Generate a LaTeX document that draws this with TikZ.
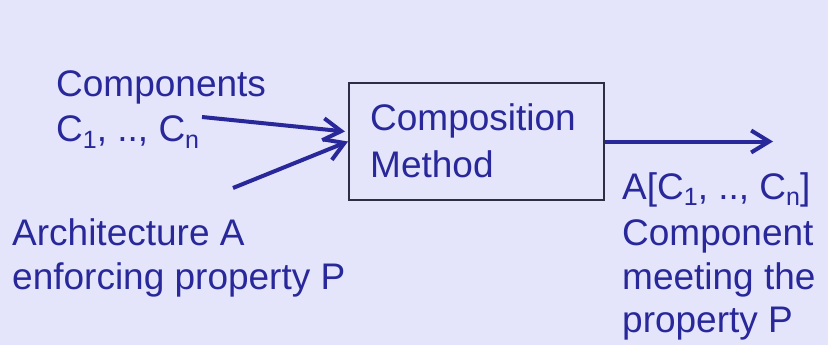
\documentclass[tikz,border=0pt]{standalone}
\usepackage{fontspec}
\setmainfont{Liberation Sans}
\usetikzlibrary{arrows.meta}
\definecolor{bg}{RGB}{228,228,250}
\definecolor{ink}{RGB}{40,40,155}
\definecolor{frame}{RGB}{45,45,70}
% lowered, reduced index
\newcommand\idx[1]{\raisebox{-6pt}{\fontsize{25}{25}\selectfont #1}}
\begin{document}
\begin{tikzpicture}[x=1pt,y=-1pt,
  txt/.style={anchor=base west, inner sep=0pt, text=ink, font=\fontsize{37}{44}\selectfont},
  flow/.style={draw=ink, line width=4pt, -{Straight Barb[length=18pt,width=22pt]}},
  block/.style={draw=frame, line width=2pt, minimum width=255pt, minimum height=117pt, inner sep=0pt}]
\fill[bg] (0,0) rectangle (828,345);
\useasboundingbox (0,0) rectangle (828,345);

% central block
\node[block] (box) at (476.5,141.5) {};
\node[txt] (m1) at (370,130) {Composition};
\node[txt] (m2) at (370,177) {Method};

% inputs
\node[txt] (c1) at (56,96) {Components};
\node[txt] (c2) at (56,142) {C\idx{1}, .., C\idx{n}};
\node[txt] (a1) at (12,245) {Architecture A};
\node[txt] (a2) at (12,289) {enforcing property P};

% output
\node[txt] (r1) at (622,199) {A[C\idx{1}, .., C\idx{n}]};
\node[txt] (r2) at (622,245) {Component};
\node[txt] (r3) at (622,289) {meeting the};
\node[txt] (r4) at (622,332) {property P};

% connectors
\coordinate (cin) at (202,117);
\coordinate (ain) at (233,188);
\coordinate (out) at (773,141.5);
\draw[flow] (cin) -- ([xshift=-3pt,yshift=10pt]box.west);
\draw[flow] (ain) -- (box.west);
\draw[flow] (box.east) -- (out);
\end{tikzpicture}
\end{document}
